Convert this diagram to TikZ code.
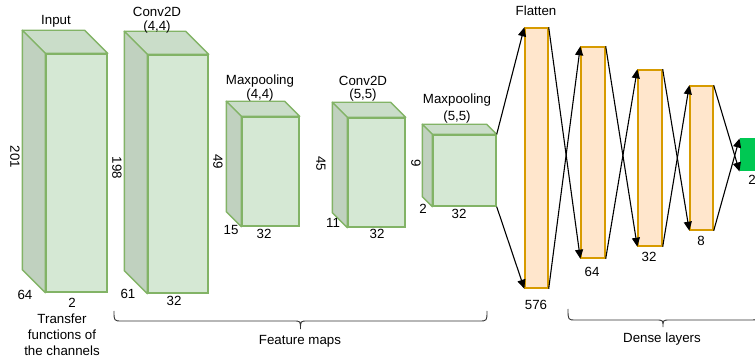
\documentclass[tikz,border=0pt]{standalone}
\usepackage{fontspec}
\setmainfont{Liberation Sans}
\usetikzlibrary{arrows.meta}

\definecolor{cubefill}{RGB}{213,232,212}
\definecolor{cubetopfill}{RGB}{202,221,201}
\definecolor{cubesidefill}{RGB}{192,209,191}
\definecolor{cubeline}{RGB}{130,179,102}
\definecolor{densefill}{RGB}{255,230,204}
\definecolor{denseline}{RGB}{215,155,0}
\definecolor{outfill}{RGB}{0,200,83}

\tikzset{
  cubefront/.style={draw=cubeline, fill=cubefill, line width=1.4pt, inner sep=0pt, rectangle},
  cubetop/.style={draw=cubeline, fill=cubetopfill, line width=1.4pt, line join=round},
  cubeside/.style={draw=cubeline, fill=cubesidefill, line width=1.4pt, line join=round},
  densebar/.style={draw=denseline, fill=densefill, line width=1.4pt, inner sep=0pt, rectangle},
  outbox/.style={draw=outfill, fill=outfill, line width=1pt, inner sep=0pt, rectangle},
  lbl/.style={inner sep=0pt, font=\fontsize{13.3}{16}\selectfont},
  vlbl/.style={lbl, rotate=-90},
  link/.style={line width=1.1pt, -{Triangle[length=9pt,width=8pt]}},
  bracepath/.style={line width=0.9pt, draw=black!80}
}

% cube: name, centre, width, height, depth
\newcommand\fmcube[5]{%
  \node[cubefront, minimum width=#3, minimum height=#4] (#1) at #2 {};
  \filldraw[cubetop] (#1.north west) -- ++(-#5,-#5) -- ([shift={(-#5,-#5)}]#1.north east) -- (#1.north east) -- cycle;
  \filldraw[cubeside] (#1.north west) -- ++(-#5,-#5) -- ([shift={(-#5,-#5)}]#1.south west) -- (#1.south west) -- cycle;
}

% curly brace: left x, right x, top y, bar y, tip y
\newcommand\fmbrace[5]{%
  \draw[bracepath] (#1,#3) .. controls (#1,#4) .. ({#1+8},#4) -- ({(#1+#2)/2-7},#4)
    .. controls ({(#1+#2)/2},#4) .. ({(#1+#2)/2},#5)
    .. controls ({(#1+#2)/2},#4) .. ({(#1+#2)/2+7},#4) -- ({#2-8},#4)
    .. controls (#2,#4) .. (#2,#3);
}

\begin{document}
\begin{tikzpicture}[x=1pt,y=-1pt]
\useasboundingbox (0,0) rectangle (755,363);
\clip (0,0) rectangle (755,363);

% feature-map cubes
\fmcube{in}{(76.5,173)}{61pt}{238pt}{23}
\fmcube{cA}{(178,174)}{60pt}{238pt}{23}
\fmcube{pA}{(270.5,171.5)}{57pt}{109pt}{15}
\fmcube{cB}{(376.5,172.5)}{57pt}{109pt}{15}
\fmcube{pB}{(464.5,170.5)}{63pt}{71pt}{10}

% dense layers
\node[densebar, minimum width=23pt, minimum height=260pt] (fl) at (536.5,158) {};
\node[densebar, minimum width=24pt, minimum height=211pt] (dA) at (593,152.5) {};
\node[densebar, minimum width=24pt, minimum height=176pt] (dB) at (650,158) {};
\node[densebar, minimum width=23pt, minimum height=144pt] (dC) at (701.5,158) {};
\node[outbox, minimum width=35pt, minimum height=32pt] (out) at (757.5,155) {};

% connections
\draw[link] (pB.north east) -- (fl.north west);
\draw[link] (pB.south east) -- (fl.south west);
\draw[link] (fl.north east) -- (dA.south west);
\draw[link] (fl.south east) -- (dA.north west);
\draw[link] (dA.north east) -- (dB.south west);
\draw[link] (dA.south east) -- (dB.north west);
\draw[link] (dB.north east) -- (dC.south west);
\draw[link] (dB.south east) -- (dC.north west);
\draw[link] (dC.north east) -- (out.south west);
\draw[link] (dC.south east) -- (out.north west);

% layer titles
\node[lbl] (tIn) at (56,21) {Input};
\node[lbl] (tCa) at (157,12) {Conv2D};
\node[lbl] (tCa2) at (157,27) {(4,4)};
\node[lbl] (tPa) at (260,81) {Maxpooling};
\node[lbl] (tPa2) at (260,95) {(4,4)};
\node[lbl] (tCb) at (363,81) {Conv2D};
\node[lbl] (tCb2) at (363,95) {(5,5)};
\node[lbl] (tPb) at (457,100) {Maxpooling};
\node[lbl] (tPb2) at (457,117) {(5,5)};
\node[lbl] (tFl) at (536,11) {Flatten};

% dimensions
\node[vlbl] (hIn) at (15,157) {201};
\node[lbl] (dIn) at (25,295) {64};
\node[lbl] (wIn) at (72,303) {2};
\node[lbl, align=center] (cap) at (62,335) {Transfer\\functions of\\the channels};
\node[vlbl] (hCa) at (117,168) {198};
\node[lbl] (dCa) at (128,294) {61};
\node[lbl] (wCa) at (174,301) {32};
\node[vlbl] (hPa) at (218,162) {49};
\node[lbl] (dPa) at (231,230) {15};
\node[lbl] (wPa) at (264,234) {32};
\node[vlbl] (hCb) at (321,164) {45};
\node[lbl] (dCb) at (333,223) {11};
\node[lbl] (wCb) at (377,234) {32};
\node[vlbl] (hPb) at (416,163) {9};
\node[lbl] (dPb) at (423,209) {2};
\node[lbl] (wPb) at (459,214) {32};
\node[lbl] (nFl) at (536,305) {576};
\node[lbl] (nA) at (592,272) {64};
\node[lbl] (nB) at (649,257) {32};
\node[lbl] (nC) at (701,241) {8};
\node[lbl] (nOut) at (752,180) {2};

% group braces
\fmbrace{114}{487}{311}{321}{329}
\node[lbl] (gFm) at (300,341) {Feature maps};
\fmbrace{568}{758}{309}{320}{327}
\node[lbl] (gDl) at (662,339) {Dense layers};
\end{tikzpicture}
\end{document}
